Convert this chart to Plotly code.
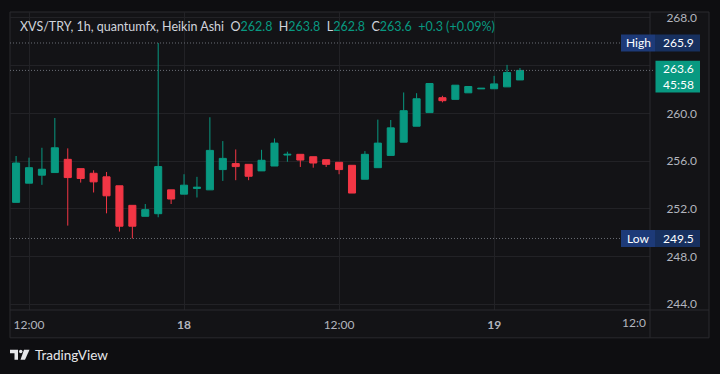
import plotly.graph_objects as go
import pandas as pd

# ---- data ----
times = pd.date_range("2024-03-17 11:00", periods=40, freq="h")
opens = [252.53, 254.14, 254.81, 255.03, 256.14, 255.36, 254.97, 254.67, 253.92, 252.28,
         251.36, 251.58, 253.58, 253.22, 253.70, 253.58, 255.28, 255.78, 255.72, 255.17,
         255.58, 256.50, 256.56, 256.36, 256.11, 255.89, 255.64, 254.47, 255.44, 256.47,
         257.58, 258.92, 260.06, 261.31, 261.17, 261.72, 262.05, 262.06, 262.22, 262.80]
highs = [256.42, 256.28, 257.11, 259.61, 257.06, 255.36, 255.22, 255.08, 253.92, 252.28,
         252.39, 265.90, 253.58, 254.89, 254.67, 259.67, 257.67, 256.97, 255.72, 256.94,
         257.89, 256.78, 256.56, 256.36, 256.11, 255.89, 255.64, 256.83, 259.47, 259.44,
         261.75, 261.69, 262.50, 261.47, 262.36, 262.25, 262.10, 263.14, 264.06, 263.80]
lows = [252.53, 254.14, 254.00, 255.03, 250.58, 254.19, 253.36, 251.61, 250.08, 249.50,
        251.36, 251.28, 252.39, 253.22, 252.94, 253.58, 254.33, 254.39, 254.39, 255.17,
        255.58, 255.94, 255.50, 255.44, 255.50, 254.89, 253.31, 254.47, 255.44, 256.47,
        257.58, 258.92, 260.06, 260.92, 261.17, 261.72, 262.05, 262.06, 262.22, 262.80]
closes = [255.83, 255.44, 255.31, 257.11, 254.61, 254.53, 254.25, 253.08, 250.53, 250.53,
          251.92, 255.53, 252.81, 253.97, 253.80, 256.89, 256.22, 255.53, 254.72, 256.06,
          257.50, 256.56, 256.08, 255.83, 255.72, 255.28, 253.31, 256.56, 257.50, 258.78,
          260.22, 261.22, 262.50, 261.06, 262.36, 262.25, 262.10, 262.47, 263.42, 263.60]

x_tickvals = ["2024-03-17 12:00", "2024-03-18 00:00", "2024-03-18 12:00", "2024-03-19 00:00"]
x_ticktext = ["12:00", "<b>18</b>", "12:00", "<b>19</b>"]
y_tickvals = [244, 248, 252, 256, 260, 264, 268]
# 264.0 is hidden behind the last-price box in the reference
y_ticktext = ["244.0", "248.0", "252.0", "256.0", "260.0", "", "268.0"]

high_val = 265.9
low_val = 249.5
last_val = 263.6
countdown = "45:58"
header = "XVS/TRY, 1h, quantumfx, Heikin Ashi"
ohlc_text = [("O", "262.8"), ("H", "263.8"), ("L", "262.8"), ("C", "263.6")]
change_text = "+0.3 (+0.09%)"

# ---- style ----
GREEN = "#089981"
RED = "#F23645"
OUTER = "#0e0e11"
INNER = "#131316"
BORDER = "#2a2a2e"
GRID = "#222226"
TXT = "#b2b5be"
FONT = "Lato"

W, H = 720, 374
L, T, PW, PH = 10, 10, 640, 300


def px(x):
    return (x - L) / PW


def py(y):
    return 1 - (y - T) / PH


fig = go.Figure()
fig.add_trace(go.Candlestick(
    x=times, open=opens, high=highs, low=lows, close=closes,
    increasing=dict(line=dict(color=GREEN, width=1), fillcolor=GREEN),
    decreasing=dict(line=dict(color=RED, width=1), fillcolor=RED),
    whiskerwidth=0, hoverinfo="skip", showlegend=False,
))

shapes = []
# frame background and borders
shapes.append(dict(type="rect", xref="paper", yref="paper", x0=px(10), x1=px(709), y0=py(10), y1=py(338),
                   fillcolor=INNER, line=dict(color=BORDER, width=1), layer="below"))
shapes.append(dict(type="line", xref="paper", yref="paper", x0=px(10), x1=px(709), y0=py(310), y1=py(310),
                   line=dict(color=BORDER, width=1)))
shapes.append(dict(type="line", xref="paper", yref="paper", x0=px(650), x1=px(650), y0=py(10), y1=py(338),
                   line=dict(color=BORDER, width=1)))
# dotted price lines
for val, x1 in [(high_val, 620), (low_val, 622), (last_val, 655)]:
    shapes.append(dict(type="line", xref="paper", yref="y", x0=0, x1=px(x1), y0=val, y1=val,
                       line=dict(color="#6a6d75", width=1, dash="1px,2px")))
# High / Low label boxes
for val in [high_val, low_val]:
    shapes.append(dict(type="rect", xref="paper", yref="y", x0=px(621), x1=px(655), y0=val - 0.72, y1=val + 0.72,
                       fillcolor="#1d3a78", line=dict(width=0)))
    shapes.append(dict(type="rect", xref="paper", yref="y", x0=px(655), x1=px(700), y0=val - 0.72, y1=val + 0.72,
                       fillcolor="#17305f", line=dict(width=0)))
# last price box
shapes.append(dict(type="rect", xref="paper", yref="paper", x0=px(655.5), x1=px(700), y0=py(59), y1=py(91),
                   fillcolor=GREEN, line=dict(width=0)))
# TradingView logo (approximation)
shapes.append(dict(type="path", xref="paper", yref="paper",
                   path=f"M {px(10)},{py(350)} L {px(18)},{py(350)} L {px(18)},{py(360)} L {px(14.5)},{py(360)} "
                        f"L {px(14.5)},{py(353.5)} L {px(10)},{py(353.5)} Z",
                   fillcolor="#e6e7ea", line=dict(width=0)))
shapes.append(dict(type="circle", xref="paper", yref="paper", x0=px(19), x1=px(22.5), y0=py(350), y1=py(353.5),
                   fillcolor="#e6e7ea", line=dict(width=0)))
shapes.append(dict(type="path", xref="paper", yref="paper",
                   path=f"M {px(24)},{py(350)} L {px(29.5)},{py(350)} L {px(25)},{py(360)} L {px(20.5)},{py(360)} Z",
                   fillcolor="#e6e7ea", line=dict(width=0)))

annotations = []
parts = [f"<span style='color:#d1d4dc'>{header}</span>&nbsp;&nbsp;"]
for k, v in ohlc_text:
    parts.append(f"<span style='color:#d1d4dc'>{k}</span><span style='color:{GREEN}'>{v}</span>&nbsp;&nbsp;")
parts.append(f"<span style='color:{GREEN}'>{change_text}</span>")
annotations.append(dict(xref="paper", yref="paper", x=px(18), y=py(25), xanchor="left", yanchor="middle",
                        text="".join(parts), showarrow=False, font=dict(family=FONT, size=12.5)))
for val, lab in [(high_val, "High"), (low_val, "Low")]:
    annotations.append(dict(xref="paper", yref="y", x=px(638), y=val, xanchor="center", yanchor="middle",
                            text=lab, showarrow=False, font=dict(family=FONT, size=12, color="#ffffff")))
    annotations.append(dict(xref="paper", yref="y", x=px(678), y=val, xanchor="center", yanchor="middle",
                            text=f"{val:.1f}", showarrow=False, font=dict(family=FONT, size=12, color="#ffffff")))
annotations.append(dict(xref="paper", yref="paper", x=px(678), y=py(75), xanchor="center", yanchor="middle",
                        text=f"{last_val:.1f}<br>{countdown}", showarrow=False,
                        font=dict(family=FONT, size=12, color="#ffffff")))
annotations.append(dict(xref="paper", yref="paper", x=px(648), y=py(323), xanchor="right", yanchor="middle",
                        text="12:0", showarrow=False, font=dict(family=FONT, size=12, color=TXT)))
annotations.append(dict(xref="paper", yref="paper", x=px(33), y=py(355), xanchor="left", yanchor="middle",
                        text="TradingView", showarrow=False, font=dict(family=FONT, size=13.5, color="#e6e7ea")))

fig.update_layout(
    width=W, height=H,
    margin=dict(l=L, r=W - L - PW, t=T, b=H - T - PH, pad=0),
    paper_bgcolor=OUTER, plot_bgcolor=INNER,
    showlegend=False,
    shapes=shapes, annotations=annotations,
    boxgap=0.22,
    font=dict(family=FONT, size=12, color=TXT),
    xaxis=dict(
        type="date",
        range=["2024-03-17 10:31:46", "2024-03-19 12:03:54"],
        rangeslider=dict(visible=False),
        tickvals=x_tickvals, ticktext=x_ticktext,
        showgrid=True, gridcolor=GRID, gridwidth=1,
        ticks="outside", ticklen=4, tickcolor="rgba(0,0,0,0)",
        tickfont=dict(family=FONT, size=12, color=TXT),
        zeroline=False, showline=False, fixedrange=True,
    ),
    yaxis=dict(
        side="right",
        range=[243.5, 268.5],
        tickvals=y_tickvals, ticktext=y_ticktext,
        showgrid=True, gridcolor=GRID, gridwidth=1,
        ticks="outside", ticklen=13, tickcolor="rgba(0,0,0,0)",
        tickfont=dict(family=FONT, size=12, color=TXT),
        zeroline=False, showline=False, fixedrange=True,
    ),
)

fig.write_html(
    "out.html",
    config={"displayModeBar": False},
    post_script="document.body.style.margin='0';document.body.style.background='%s';" % OUTER,
)
